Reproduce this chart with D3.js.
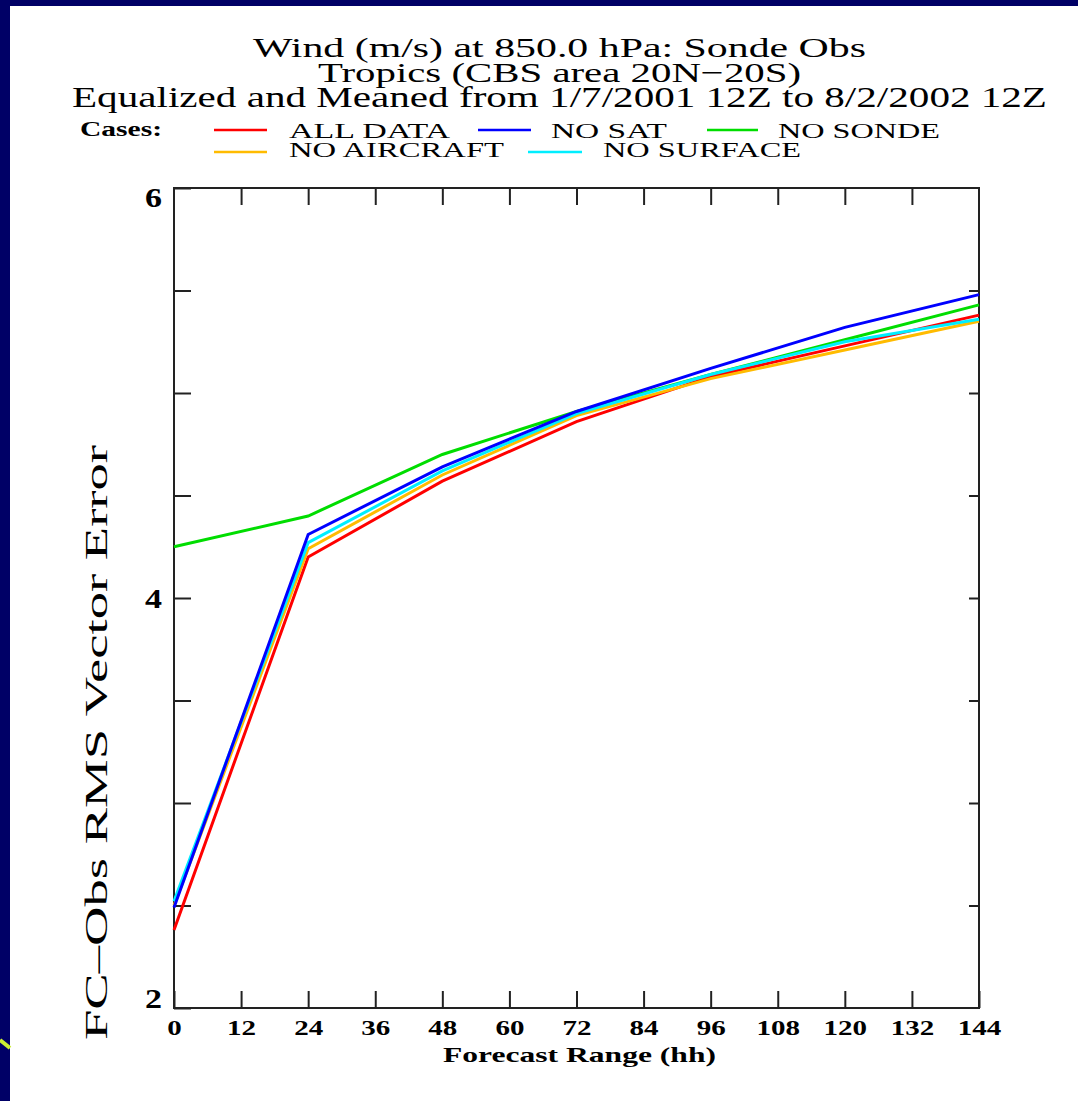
<!DOCTYPE html>
<html><head><meta charset="utf-8">
<script src="https://cdn.jsdelivr.net/npm/d3@7"></script>
<style>html,body{margin:0;padding:0;background:#000066;}svg{display:block;}</style>
</head><body>
<svg id="c" width="1078" height="1101"></svg>
<script>
const hours = [0, 24, 48, 72, 96, 120, 144];
const seriesNames = ["ALL DATA", "NO SAT", "NO SONDE", "NO AIRCRAFT", "NO SURFACE"];
const seriesColors = ["#ff0000", "#0000ff", "#00dd00", "#ffbb00", "#00eeff"];
const allData    = [2.38, 4.20, 4.57, 4.86, 5.08, 5.23, 5.38];
const noSat      = [2.49, 4.31, 4.64, 4.91, 5.12, 5.32, 5.48];
const noSonde    = [4.25, 4.40, 4.70, 4.91, 5.09, 5.26, 5.43];
const noAircraft = [2.50, 4.24, 4.60, 4.89, 5.07, 5.21, 5.35];
const noSurface  = [2.52, 4.27, 4.62, 4.90, 5.09, 5.25, 5.36];
const seriesValues = [allData, noSat, noSonde, noAircraft, noSurface];
const xTicks = [0, 12, 24, 36, 48, 60, 72, 84, 96, 108, 120, 132, 144];
const yTicks = [2, 2.5, 3, 3.5, 4, 4.5, 5, 5.5, 6];
const yLabels = [2, 4, 6];
const titleLines = ["Wind (m/s) at 850.0 hPa:  Sonde Obs", "Tropics (CBS area 20N\u221220S)", "Equalized and Meaned from 1/7/2001 12Z to 8/2/2002 12Z"];

const svg = d3.select("#c");
const serif = "'Liberation Serif','DejaVu Serif',serif";

// white panel
svg.append("rect").attr("x", 10).attr("y", 6).attr("width", 1068).attr("height", 1095).attr("fill", "#ffffff");
// small decoration at left edge
svg.append("path").attr("d", "M0,1040 L10,1048").attr("stroke", "#ccee33").attr("stroke-width", 4).attr("fill", "none");

const L = 174, R = 979, T = 188, B = 1008;
const x = d3.scaleLinear().domain([0, 144]).range([L, R]);
const y = d3.scaleLinear().domain([2, 6]).range([B, T]);

// titles
const tl = [
  {t: titleLines[0], x0: 253, x1: 866, base: 57, fs: 28},
  {t: titleLines[1], x0: 318, x1: 801, base: 82, fs: 28},
  {t: titleLines[2], x0: 72, x1: 1047, base: 107, fs: 29}
];
tl.forEach(d => {
  svg.append("text").attr("x", d.x0).attr("y", d.base).attr("font-family", serif)
    .attr("font-size", d.fs).attr("fill", "#000")
    .attr("textLength", d.x1 - d.x0).attr("lengthAdjust", "spacingAndGlyphs").text(d.t);
});

// legend
svg.append("text").attr("x", 80).attr("y", 136).attr("font-family", serif).attr("font-size", 20)
  .attr("font-weight", "bold").attr("textLength", 82).attr("lengthAdjust", "spacingAndGlyphs").text("Cases:");
const legPos = [
  {lx0: 214, lx1: 267, ly: 130, tx0: 289, tx1: 450, base: 138},
  {lx0: 478, lx1: 531, ly: 130, tx0: 551, tx1: 667, base: 138},
  {lx0: 707, lx1: 758, ly: 130, tx0: 778, tx1: 940, base: 138},
  {lx0: 214, lx1: 267, ly: 152, tx0: 289, tx1: 504, base: 157},
  {lx0: 528, lx1: 582, ly: 152, tx0: 603, tx1: 801, base: 157}
];
seriesNames.forEach((n, i) => {
  const p = legPos[i];
  svg.append("line").attr("x1", p.lx0).attr("x2", p.lx1).attr("y1", p.ly).attr("y2", p.ly)
    .attr("stroke", seriesColors[i]).attr("stroke-width", 2.5);
  svg.append("text").attr("x", p.tx0).attr("y", p.base).attr("font-family", serif).attr("font-size", 20)
    .attr("textLength", p.tx1 - p.tx0).attr("lengthAdjust", "spacingAndGlyphs").text(n);
});

// axes frame
const g = svg.append("g");
g.append("rect").attr("x", L).attr("y", T).attr("width", R - L).attr("height", B - T)
  .attr("fill", "none").attr("stroke", "#222").attr("stroke-width", 2);

// x ticks (bottom & top, inward)
const xb = d3.axisBottom(x).tickValues(xTicks).tickSizeInner(-17).tickSizeOuter(0);
const xAx = g.append("g").attr("transform", `translate(0,${B})`).call(xb);
xAx.select(".domain").remove();
xAx.selectAll("line").attr("stroke", "#222").attr("stroke-width", 2);
xAx.selectAll("text").attr("font-family", serif).attr("font-size", 22).attr("font-weight", "bold")
  .attr("fill", "#000").attr("y", 27).attr("dy", null)
  .each(function(d) {
    const s = String(d);
    d3.select(this).attr("textLength", s.length * 14.5).attr("lengthAdjust", "spacingAndGlyphs");
  });
const xt = d3.axisTop(x).tickValues(xTicks.slice(1, -1)).tickSizeInner(-17).tickSizeOuter(0).tickFormat("");
const xtA = g.append("g").attr("transform", `translate(0,${T})`).call(xt);
xtA.select(".domain").remove();
xtA.selectAll("line").attr("stroke", "#222").attr("stroke-width", 2);

// y ticks left & right
const yl = d3.axisLeft(y).tickValues(yTicks).tickSizeInner(-17).tickSizeOuter(0)
  .tickFormat(d => yLabels.includes(d) ? d3.format("d")(d) : "");
const ylA = g.append("g").attr("transform", `translate(${L},0)`).call(yl);
ylA.select(".domain").remove();
ylA.selectAll("line").attr("stroke", "#222").attr("stroke-width", 2);
ylA.selectAll("text").attr("font-family", serif).attr("font-size", 27).attr("font-weight", "bold")
  .attr("fill", "#000").attr("x", -12).attr("dy", null)
  .attr("y", d => d === 6 ? 18 : d === 2 ? -1 : 9)
  .attr("textLength", d => yLabels.includes(d) ? 17 : null)
  .attr("lengthAdjust", "spacingAndGlyphs");
const yr = d3.axisRight(y).tickValues(yTicks.slice(1, -1)).tickSizeInner(-10).tickSizeOuter(0).tickFormat("");
const yrA = g.append("g").attr("transform", `translate(${R},0)`).call(yr);
yrA.select(".domain").remove();
yrA.selectAll("line").attr("stroke", "#222").attr("stroke-width", 2);

// axis titles
svg.append("text").attr("x", 443).attr("y", 1062).attr("font-family", serif).attr("font-size", 21)
  .attr("font-weight", "bold").attr("textLength", 273).attr("lengthAdjust", "spacingAndGlyphs")
  .text("Forecast Range (hh)");
svg.append("text").attr("transform", "translate(107,1040) rotate(-90)").attr("font-family", serif)
  .attr("font-size", 31).attr("textLength", 595).attr("lengthAdjust", "spacingAndGlyphs")
  .text("FC\u2013Obs RMS Vector Error");

// lines
const line = d3.line().x((d, i) => x(hours[i])).y(d => y(d));
const order = [2, 0, 3, 4, 1];
order.forEach(i => {
  svg.append("path").datum(seriesValues[i]).attr("d", line).attr("fill", "none")
    .attr("stroke", seriesColors[i]).attr("stroke-width", 3).attr("stroke-linejoin", "miter");
});
</script>
</body></html>
